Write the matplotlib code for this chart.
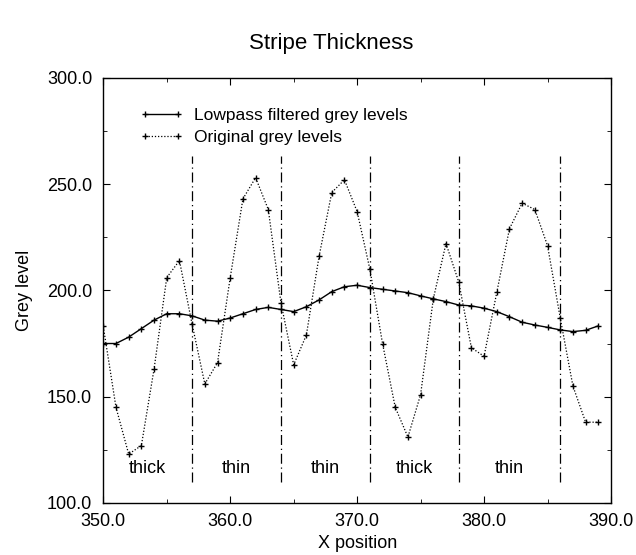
import matplotlib
matplotlib.use('Agg')
import matplotlib.pyplot as plt

x_pos = list(range(350, 390))

lowpass = [175, 175, 178, 182, 186, 189, 189, 188, 186, 185.5,
           187, 189, 191, 192, 191, 190, 192.3, 195.5, 199.4, 201.7,
           202.4, 201.3, 200.5, 199.7, 198.9, 197.4, 196, 194.7, 193.1, 192.7,
           191.6, 190, 187.6, 185, 183.7, 182.6, 181.4, 180.6, 181.2, 183.3]

original = [183, 145, 123, 127, 163, 206, 214, 184, 156, 166,
            206, 243, 253, 238, 194, 165, 179, 216, 246, 252,
            237, 210, 175, 145, 131, 151, 196, 222, 204, 173,
            169, 199, 229, 241, 238, 221, 187, 155, 138, 138]

boundaries = [357, 364, 371, 378, 386]
stripe_names = ['thick', 'thin', 'thin', 'thick', 'thin']
stripe_centers = [353.5, 360.5, 367.5, 374.5, 382]


def main():
    plt.rcParams['font.family'] = ['Liberation Sans', 'DejaVu Sans']
    fig = plt.figure(figsize=(6.36, 5.55), dpi=100)
    ax = fig.add_axes([0.1624, 0.0937, 0.7983, 0.7663])

    ax.plot(x_pos, lowpass, color='black', linewidth=1.0, marker='+',
            markersize=5, markeredgewidth=1.0,
            label='Lowpass filtered grey levels')
    ax.plot(x_pos, original, color='black', linewidth=0.9, linestyle=(0, (1, 1.5)),
            marker='+', markersize=5, markeredgewidth=1.0,
            label='Original grey levels')

    for b in boundaries:
        ax.plot([b, b], [110, 263], color='black', linewidth=0.9,
                dashes=(8, 3, 1, 3))

    for name, c in zip(stripe_names, stripe_centers):
        ax.text(c, 116, name, ha='center', va='center', fontsize=13)

    ax.set_xlim(350, 390)
    ax.set_ylim(100, 300)
    ax.set_xticks([350, 360, 370, 380, 390])
    ax.set_xticks([355, 365, 375, 385], minor=True)
    ax.set_yticks([100, 150, 200, 250, 300])
    ax.set_yticks([125, 175, 225, 275], minor=True)
    ax.set_xticklabels(['%.1f' % v for v in [350, 360, 370, 380, 390]])
    ax.set_yticklabels(['%.1f' % v for v in [100, 150, 200, 250, 300]])
    ax.tick_params(which='both', direction='in', top=True, right=True,
                   labelsize=13)
    ax.tick_params(axis='x', which='major', pad=7)
    ax.tick_params(axis='y', which='major', pad=8)
    ax.tick_params(which='major', length=5)
    ax.tick_params(which='minor', length=3)
    for s in ax.spines.values():
        s.set_linewidth(1.0)

    ax.set_xlabel('X position', fontsize=13, labelpad=4)
    ax.set_ylabel('Grey level', fontsize=13, labelpad=10)
    fig.text(0.52, 0.922, 'Stripe Thickness', ha='center', va='center',
             fontsize=16)

    ax.legend(loc='upper left', bbox_to_anchor=(0.072, 0.93), frameon=False,
              numpoints=2, handlelength=2.5, fontsize=12.5, labelspacing=0.44,
              handletextpad=0.63, borderpad=0, borderaxespad=0)

    fig.savefig('out.png', dpi=100)


if __name__ == '__main__':
    main()
